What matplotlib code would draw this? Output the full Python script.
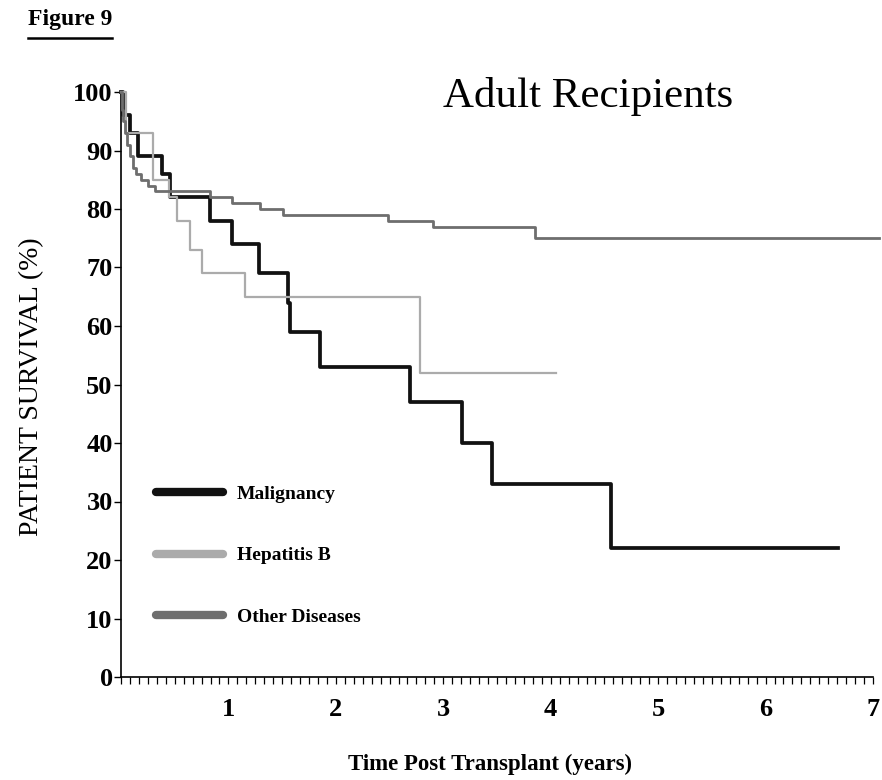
import numpy as np
import matplotlib
matplotlib.use("Agg")
import matplotlib.pyplot as plt
from matplotlib.lines import Line2D
from matplotlib.ticker import MultipleLocator

plt.rcParams['font.family'] = ['Liberation Serif', 'DejaVu Serif']

# Kaplan-Meier survival steps (years, % surviving)
malig_t = [0, 0.02, 0.08, 0.16, 0.38, 0.46, 0.83, 1.03, 1.28, 1.55, 1.57, 1.85, 2.69, 3.17, 3.45, 4.56, 6.67]
malig_s = [100, 96, 93, 89, 86, 82, 78, 74, 69, 64, 59, 53, 47, 40, 33, 22, 22]

hepb_t = [0, 0.05, 0.30, 0.45, 0.52, 0.64, 0.75, 1.15, 2.78, 4.05]
hepb_s = [100, 93, 85, 82, 78, 73, 69, 65, 52, 52]

other_t = [0, 0.01, 0.02, 0.04, 0.06, 0.08, 0.11, 0.14, 0.19, 0.25, 0.32,
           0.83, 1.03, 1.29, 1.51, 2.49, 2.90, 3.85, 7.06]
other_s = [100, 97, 95, 93, 91, 89, 87, 86, 85, 84, 83,
           82, 81, 80, 79, 78, 77, 75, 75]

labels = ["Malignancy", "Hepatitis B", "Other Diseases"]
colors = ["#111111", "#ababab", "#6e6e6e"]
widths = [2.7, 1.6, 2.0]

fig = plt.figure(figsize=(8.82, 7.8), dpi=100)
ax = fig.add_axes([121/882, 1 - 677/780, 752/882, 585/780])

series = [(malig_t, malig_s), (hepb_t, hepb_s), (other_t, other_s)]
for (t, s), c, w in zip(series, colors, widths):
    ax.step(t, s, where='post', color=c, lw=w, clip_on=False, zorder=3)

ax.set_xlim(0, 7)
ax.set_ylim(0, 100)
for side in ['top', 'right']:
    ax.spines[side].set_visible(False)
for side in ['left', 'bottom']:
    ax.spines[side].set_linewidth(1.2)

ax.yaxis.set_major_locator(MultipleLocator(10))
ax.xaxis.set_major_locator(MultipleLocator(1))
ax.xaxis.set_minor_locator(MultipleLocator(1/12))
ax.tick_params(axis='y', direction='out', length=5, width=1, pad=1, labelsize=19)
ax.tick_params(axis='x', which='both', direction='out', length=5, width=0.9, pad=10, labelsize=19)
for lab in ax.get_xticklabels() + ax.get_yticklabels():
    lab.set_fontweight('bold')
ax.set_xticks([1, 2, 3, 4, 5, 6, 7])

handles = [Line2D([], [], color=c, lw=6, solid_capstyle='round') for c in colors]
leg = ax.legend(handles, labels, loc='upper left', bbox_to_anchor=(0.034, 0.344),
                frameon=False, handlelength=3.45, handletextpad=0.7, borderpad=0,
                labelspacing=2.25, prop={'family': 'Liberation Serif', 'weight': 'bold', 'size': 14})

fig.text(588/882, 1 - 97/780, "Adult Recipients", ha='center', va='center',
         fontsize=31)
fig.text(32/882, 1 - 387/780, "PATIENT SURVIVAL (%)", ha='center', va='center',
         rotation=90, fontsize=20)
fig.text(490/882, 1 - 764/780, "Time Post Transplant (years)", ha='center', va='center',
         fontsize=16.5, fontweight='bold')
fig.text(28/882, 1 - 20/780, "Figure 9", ha='left', va='center',
         fontsize=17, fontweight='bold')
fig.add_artist(Line2D([28/882, 112/882], [1 - 38/780, 1 - 38/780], color='black', lw=1.8))

fig.savefig("out.png", dpi=100)
